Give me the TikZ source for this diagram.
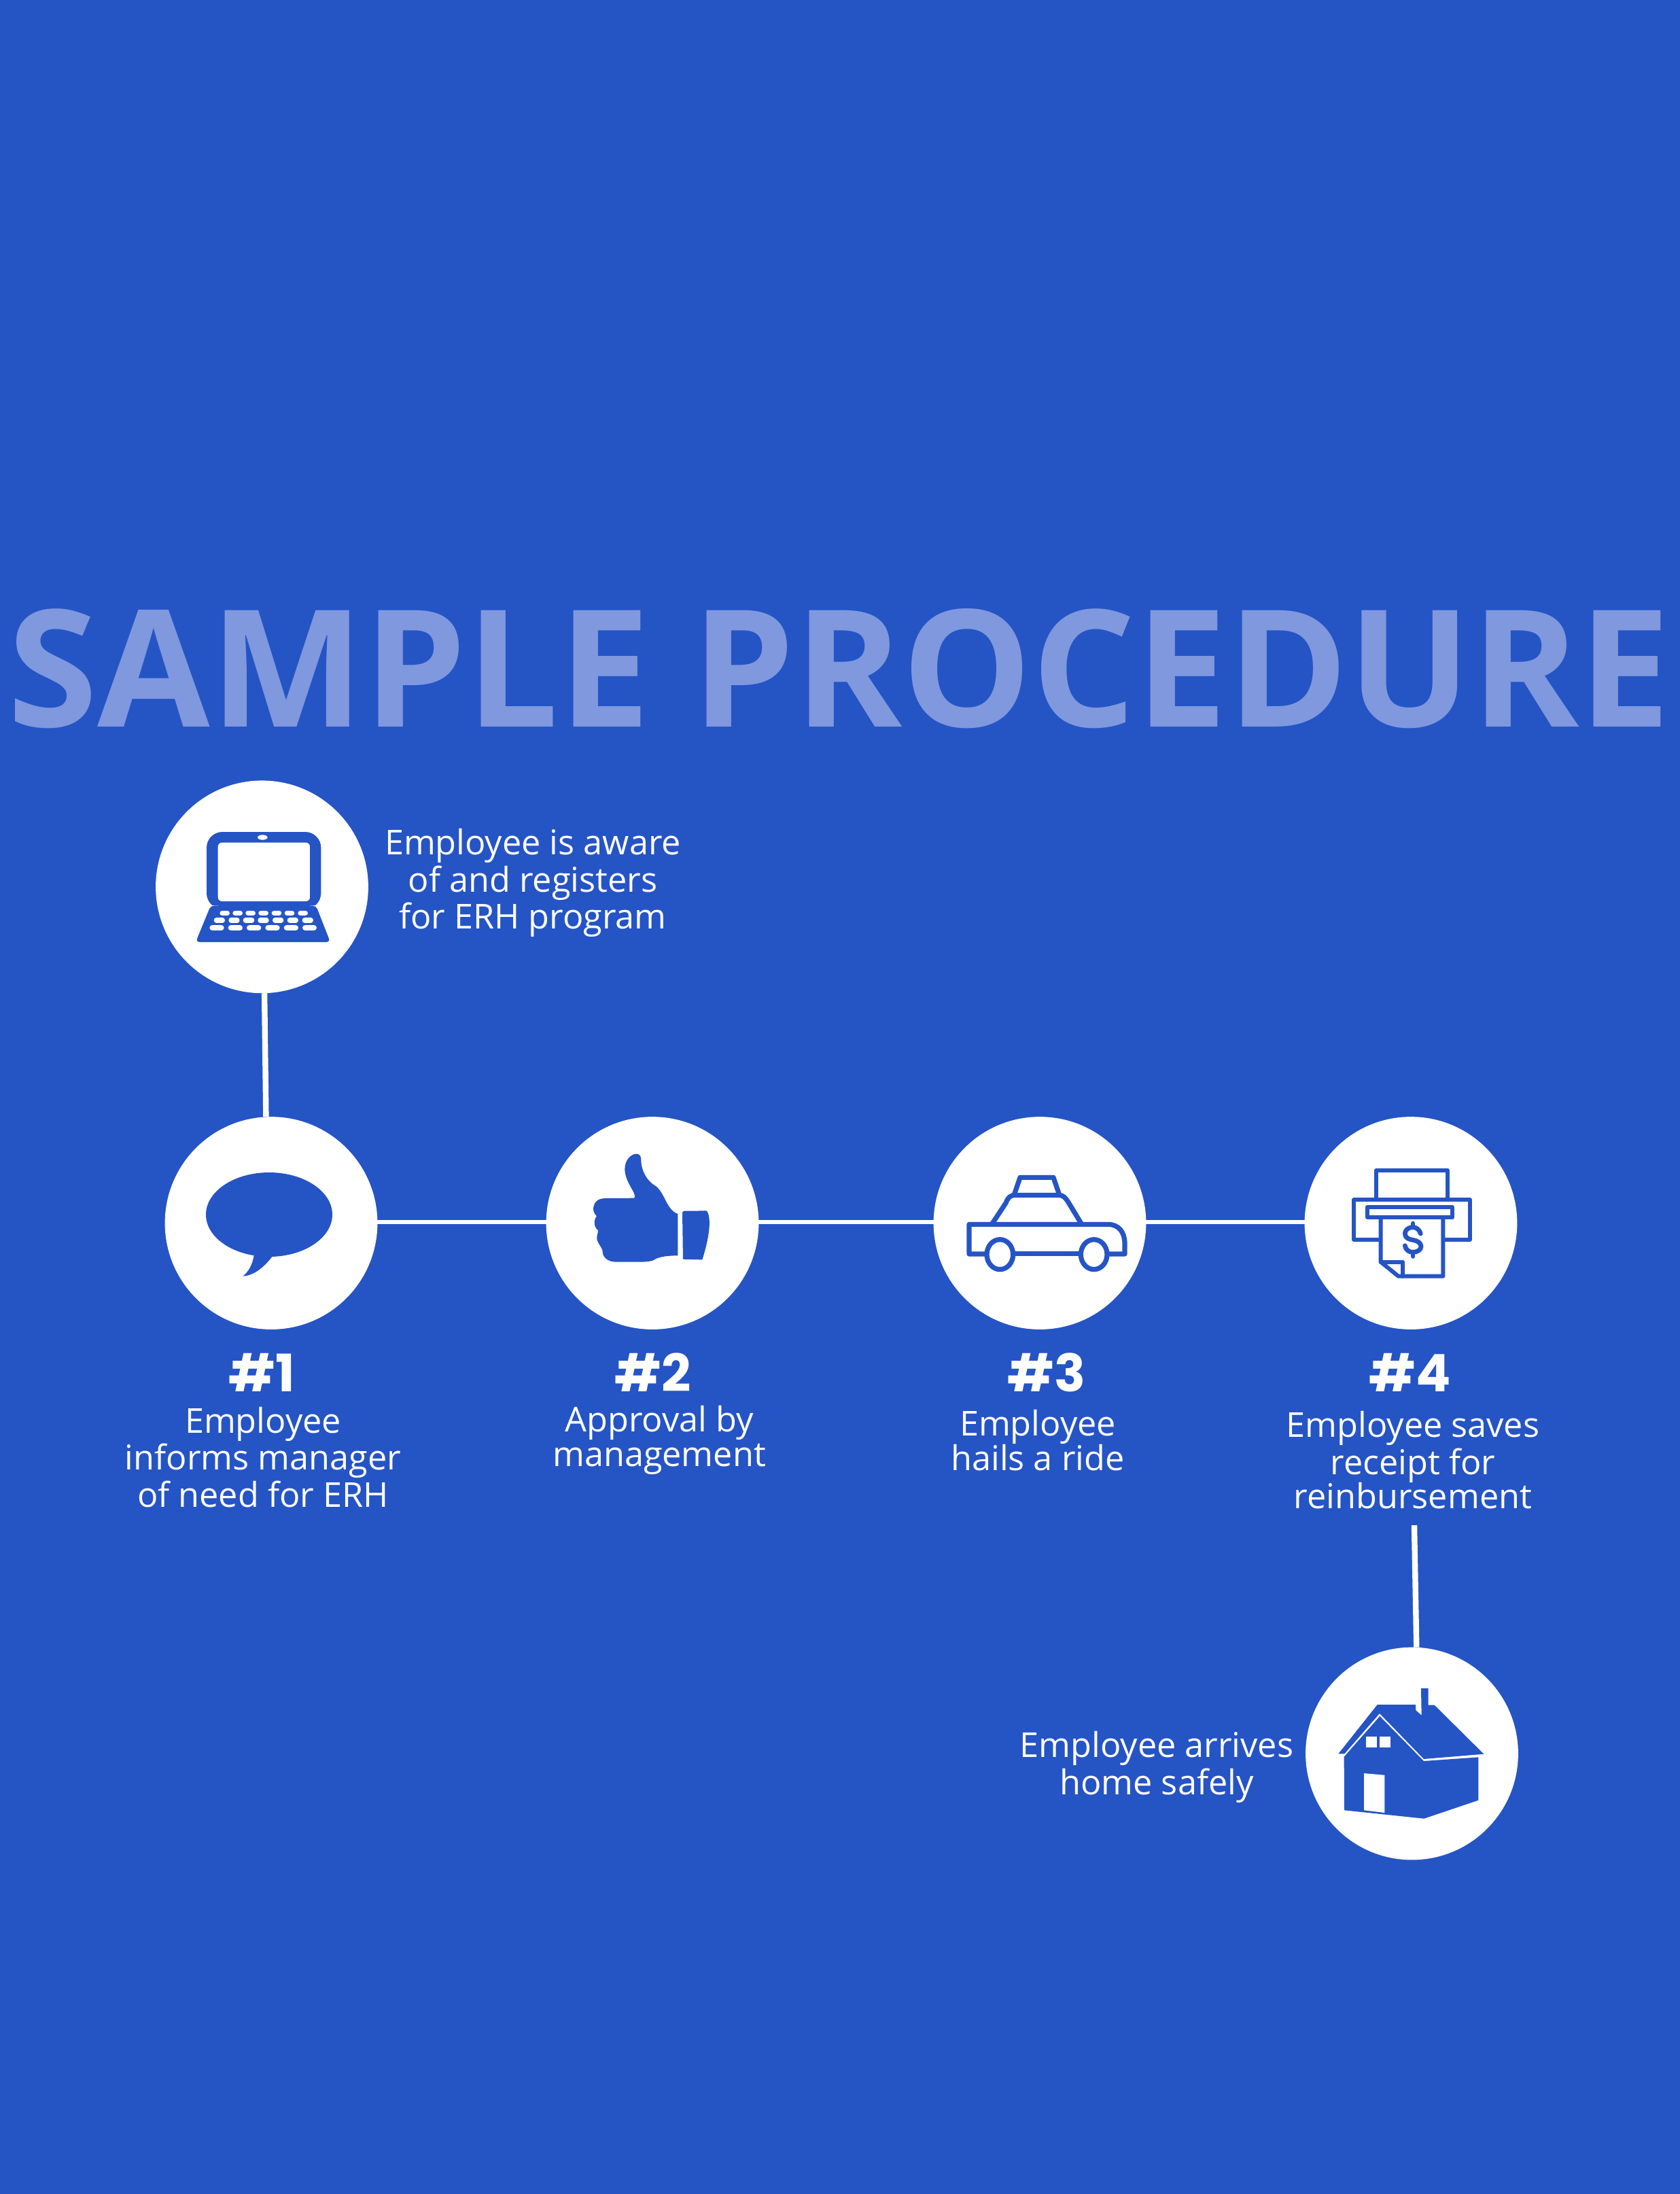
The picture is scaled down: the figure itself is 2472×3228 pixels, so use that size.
\documentclass[tikz,border=0pt]{standalone}
\usepackage{fontspec}
\setmainfont{Open Sans}
\newfontfamily\numfont{Poppins}
\definecolor{brand}{HTML}{2554C5}
\definecolor{titlecol}{HTML}{7F98DE}
\tikzset{
  disc/.style={circle,fill=white,draw=none,minimum size=78.2pt,inner sep=0pt,outer sep=0pt},
  link/.style={draw=white,line width=2.1pt},
  hlink/.style={draw=white,line width=1.5pt},
  body/.style={text=white,align=center,inner sep=0pt,font=\fontsize{12.6}{12.6}\selectfont},
  numlabel/.style={text=white,inner sep=0pt,font=\numfont\bfseries\fontsize{19}{19}\selectfont},
  titletext/.style={text=titlecol,inner sep=0pt,font=\bfseries\fontsize{60}{60}\selectfont},
  iconfill/.style={fill=brand,draw=none},
  hole/.style={fill=white,draw=none},
  carline/.style={draw=brand,line width=1.8pt,line join=round,line cap=round},
  printline/.style={draw=brand,line width=1.5pt,line join=round,line cap=round},
  key/.style={draw=white,line cap=round},
}
\begin{document}
\begin{tikzpicture}[x=0.25pt,y=-0.25pt]
\useasboundingbox (0,0) rectangle (2472,3228);
\fill[brand] (0,0) rectangle (2472,3228);
% title
\node[titletext] (title) at (1235,984) {SAMPLE PROCEDURE};
% discs
\node[disc] (s0) at (385.5,1304.8) {};
\node[disc] (s1) at (399,1799.5) {};
\node[disc] (s2) at (960,1799.5) {};
\node[disc] (s3) at (1530,1799.5) {};
\node[disc] (s4) at (2076,1799.5) {};
\node[disc] (s5) at (2077.5,2580) {};
% connectors
\draw[link] ([xshift=0.9pt]s0.south) -- ([xshift=-1.9pt]s1.north);
\draw[hlink] ([yshift=0.3pt]s1.east) -- ([yshift=0.3pt]s2.west);
\draw[hlink] ([yshift=0.3pt]s2.east) -- ([yshift=0.3pt]s3.west);
\draw[hlink] ([yshift=0.3pt]s3.east) -- ([yshift=0.3pt]s4.west);
\coordinate (free) at (2081,2244);
\draw[link] (free) -- ([xshift=1.7pt]s5.north);
% labels
\node[body] (t0) at (784,1299) {Employee is aware\\of and registers\\for ERH program};
\node[numlabel] (n1) at (385,2019) {\#1};
\node[numlabel] (n2) at (961,2019) {\#2};
\node[numlabel] (n3) at (1540,2019) {\#3};
\node[numlabel] (n4) at (2075,2019) {\#4};
\node[body] (t1) at (387,2144) {Employee\\informs manager\\of need for ERH};
\node[body] (t2) at (970,2119) {Approval by\\management};
\node[body] (t3) at (1527,2119) {Employee\\hails a ride};
\node[body] (t4) at (2079,2148) {Employee saves\\receipt for\\reinbursement};
\node[body] (t5) at (1702,2600) {Employee arrives\\home safely};
% laptop
\begin{scope}[shift={(220,1140)},scale=1/3]
  \fill[iconfill,rounded corners=5.8pt] (252,252) rectangle (757,592);
  \fill[hole,rounded corners=1.5pt] (302,299) rectangle (708,558);
  \fill[hole] (499,276) ellipse [x radius=22,y radius=11];
  \fill[hole] (255,577) -- (302,577) -- (302,590) -- (255,590) -- cycle;
  \fill[hole] (708,577) -- (755,577) -- (755,590) -- (708,590) -- cycle;
  \fill[iconfill,rounded corners=1.3pt] (270,577) -- (735,577) -- (798,738) -- (204,738) -- cycle;
  \foreach \a/\b in {310/354,367/411,424/468,481/525,539/583,596/640,655/699}
    \draw[key,line width=1.83pt] (\a+11,610) -- (\b-11,610);
  \foreach \a/\b in {284/333,349/398,413/463,478/527,543/592,608/657,674/723}
    \draw[key,line width=1.83pt] (\a+11,642) -- (\b-11,642);
  \foreach \a/\b in {265/329,347/411,429/493,511/575,593/657,675/738}
    \draw[key,line width=2.17pt] (\a+13,675) -- (\b-13,675);
\end{scope}
% speech bubble
\begin{scope}[shift={(230,1640)},scale=1/3]
  \fill[iconfill] (498,441) ellipse [x radius=279,y radius=186];
  \fill[iconfill] (432,615) .. controls (425,665) and (405,695) .. (382,713)
     .. controls (430,710) and (475,675) .. (515,622) -- cycle;
\end{scope}
% thumb
\begin{scope}[shift={(790,1640)},scale=1/3]
  \fill[iconfill] (430,368) .. controls (445,350) and (388,300) .. (388,240)
    .. controls (388,200) and (415,173) .. (440,173)
    .. controls (455,173) and (460,185) .. (460,200)
    .. controls (460,250) and (490,295) .. (520,312)
    .. controls (565,340) and (570,420) .. (622,438)
    -- (622,622)
    .. controls (570,622) and (535,628) .. (515,642)
    .. controls (490,655) and (400,648) .. (350,650)
    .. controls (315,650) and (290,630) .. (290,605)
    .. controls (290,585) and (262,565) .. (265,540)
    .. controls (266,525) and (272,520) .. (270,510)
    .. controls (250,495) and (250,465) .. (264,448)
    .. controls (250,435) and (245,415) .. (252,400)
    .. controls (260,375) and (280,370) .. (300,369)
    -- cycle;
  \fill[iconfill] (642,432) .. controls (642,425) and (650,425) .. (660,425)
    -- (750,424) .. controls (768,450) and (768,520) .. (730,640)
    -- (645,638) -- cycle;
\end{scope}
% car
\begin{scope}[shift={(1360,1640)},scale=1/3]
  \draw[carline] (270,615) -- (198,615) -- (198,484) -- (810,484)
     .. controls (860,484) and (885,520) .. (885,570) -- (885,615) -- (817,615);
  \draw[carline] (400,614) -- (680,614);
  \draw[carline] (334,617) ellipse [x radius=58,y radius=66];
  \draw[carline] (749,617) ellipse [x radius=58,y radius=66];
  \draw[carline] (298,484) -- (360,390) .. controls (370,362) and (385,355) .. (400,355)
     -- (595,355) .. controls (615,355) and (625,370) .. (635,385) -- (695,484);
  \draw[carline] (398,350) -- (423,277) -- (570,277) -- (595,350);
\end{scope}
% printer
\begin{scope}[shift={(1910,1640)},scale=1/3]
  \draw[printline] (345,370) -- (345,245) -- (660,245) -- (660,370);
  \draw[printline] (355,552) -- (247,552) -- (247,375) -- (758,375) -- (758,552) -- (650,552);
  \draw[printline] (306,407) rectangle (680,454);
  \draw[printline] (365,462) -- (365,650) -- (443,713) -- (640,713) -- (640,462);
  \draw[printline] (365,650) -- (462,650) -- (462,713);
  \draw[printline,line width=1.7pt] (541,525) .. controls (535,505) and (520,497) .. (507,497)
     .. controls (485,497) and (472,510) .. (472,525)
     .. controls (472,545) and (490,550) .. (507,553)
     .. controls (525,556) and (543,565) .. (543,582)
     .. controls (543,597) and (525,607) .. (507,607)
     .. controls (490,607) and (475,597) .. (472,578);
  \draw[printline,line width=1.7pt] (507,480) -- (507,497);
  \draw[printline,line width=1.7pt] (507,607) -- (507,625);
\end{scope}
% house
\begin{scope}[shift={(1910,2410)},scale=1/3]
  \fill[iconfill] (178,511) -- (350,294) -- (519,294) -- (519,318) -- (545,341) -- (543,222)
     -- (575,222) -- (575,296) -- (602,296) -- (820,512) -- (555,534) -- (360,333) -- (205,511) -- cycle;
  \fill[iconfill] (203,524) -- (361,345) -- (555,543) -- (796,526) -- (796,716) -- (556,797) -- (204,760) -- cycle;
  \fill[hole] (301,436) rectangle (347,483);
  \fill[hole] (361,436) rectangle (407,483);
  \fill[hole] (291,597) -- (382,605) -- (382,771) -- (291,760) -- cycle;
\end{scope}
\end{tikzpicture}
\end{document}
